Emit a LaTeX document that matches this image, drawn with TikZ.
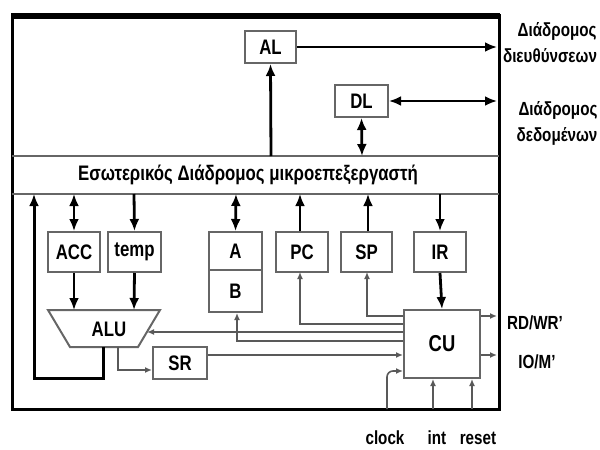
\documentclass[tikz,border=0pt]{standalone}
\usepackage{fontspec}
\setmainfont{Liberation Sans}[FakeStretch=0.8]
\usetikzlibrary{arrows.meta}
\definecolor{bx}{gray}{0.4}
\definecolor{ln}{gray}{0.35}
\tikzset{
  reg/.style={draw=bx, line width=1pt, fill=white, inner sep=0pt, font=\fontsize{10.5}{11}\selectfont\bfseries},
  thk/.style={line width=1.4pt, -{Latex[length=6pt,width=5pt]}},
  thkd/.style={line width=1.4pt, {Latex[length=6pt,width=5pt]}-{Latex[length=6pt,width=5pt]}},
  thn/.style={draw=ln, line width=0.8pt, -{Latex[length=3.5pt,width=3pt]}},
  lbl/.style={font=\fontsize{9.5}{10}\selectfont\bfseries, inner sep=0pt},
}
\begin{document}
\begin{tikzpicture}[x=0.5pt,y=-0.5pt]
\useasboundingbox (0,0) rectangle (600,450);
% frame
\draw[line width=1.5pt] (12,15) rectangle (499,409);
\draw[line width=3pt] (11,16) -- (500,16);
% bus
\draw[draw=bx, line width=0.7pt] (12,156) -- (499,156);
\draw[draw=bx, line width=0.7pt] (12,194) -- (499,194);
\node[font=\fontsize{10.5}{11}\selectfont\bfseries] (bus) at (248,175) {Εσωτερικός Διάδρομος μικροεπεξεργαστή};
\coordinate (busAL) at (271,156);
\coordinate (busDL) at (362,156);
% AL, DL
\node[reg, minimum width=25.5pt, minimum height=16pt] (AL) at (270.5,47) {AL};
\node[reg, minimum width=26.5pt, minimum height=16pt] (DL) at (361.5,101) {DL};
\coordinate (aout) at (497,47);
\coordinate (dout) at (497,101);
\draw[thk] (busAL) -- (AL.south);
\draw[thk] (AL.east) -- (aout);
\draw[thkd] (DL.east) -- (dout);
\draw[thkd] (DL.south) -- (busDL);
% right labels
\node[lbl, anchor=east] (l1) at (597,31) {Διάδρομος};
\node[lbl] (l2) at (550,56) {διευθύνσεων};
\node[lbl] (l3) at (558,110) {Διάδρομος};
\node[lbl] (l4) at (557,136) {δεδομένων};
% registers
\node[reg, minimum width=26pt, minimum height=20pt] (ACC) at (74,252) {ACC};
\node[reg, minimum width=26.5pt, minimum height=20pt] (temp) at (134.5,252) {temp};
\node[reg, minimum width=26.5pt, minimum height=19pt] (A) at (235.5,251) {A};
\node[reg, minimum width=26.5pt, minimum height=21pt] (B) at (235.5,291) {B};
\node[reg, minimum width=26pt, minimum height=20pt] (PC) at (302,252) {PC};
\node[reg, minimum width=25.5pt, minimum height=20pt] (SP) at (366.5,252) {SP};
\node[reg, minimum width=26pt, minimum height=20pt] (IR) at (440,252) {IR};
\node[reg, minimum width=27pt, minimum height=16pt] (SR) at (180,363) {SR};
\node[reg, minimum width=38pt, minimum height=34pt, font=\fontsize{11.5}{12}\selectfont\bfseries] (CU) at (442,344) {CU};
% ALU
\draw[draw=bx, line width=1pt] (48,310) -- (160,310) -- (138,347) -- (70,347) -- cycle;
\node[font=\fontsize{10.5}{11}\selectfont\bfseries] (ALU) at (109,329) {ALU};
\coordinate (alutopL) at (74,310);
\coordinate (alutopR) at (134,310);
\coordinate (aluin) at (147,332);
\coordinate (aluo1) at (103,347);
\coordinate (aluo2) at (118,347);
% bus connections
\draw[thkd] (74,194) -- (ACC.north);
\draw[thk] (134,194) -- (temp.north);
\draw[thkd] (236,194) -- (A.north);
\draw[thk] (PC.north -| 300,0) -- (300,194);
\draw[thk] (SP.north -| 368,0) -- (368,194);
\draw[thk] (440,194) -- (IR.north);
\draw[thk] (IR.south) -- (CU.north);
\draw[thk] (ACC.south) -- (alutopL);
\draw[thk] (temp.south) -- (alutopR);
% ALU outputs
\draw[line width=1.5pt, -{Latex[length=6pt,width=5pt]}] (aluo1) -- (103,378) -- (34,378) -- (34,194);
\draw[thn] (aluo2) -- (118,370) -- (SR.west |- 0,370);
\draw[thn] (SR.east |- 0,355) -- (CU.west |- 0,355);
% CU control lines
\draw[thn] (CU.west |- 0,316) -- (367,316) -- (367,272);
\draw[thn] (CU.west |- 0,324) -- (300,324) -- (300,272);
\draw[thn] (CU.west |- 0,332) -- (aluin);
\draw[thn] (CU.west |- 0,341) -- (237,341) -- (B.south -| 237,0);
% clock int reset
\draw[thn, rounded corners=3pt] (387,409) -- (387,371) -- (CU.west |- 0,371);
\draw[thn] (433,409) -- (CU.south -| 433,0);
\draw[thn] (472,409) -- (CU.south -| 472,0);
\node[lbl] (clk) at (385,438) {clock};
\node[lbl] (int) at (437,438) {int};
\node[lbl] (rst) at (478,438) {reset};
% RD/WR, IO/M
\coordinate (rw) at (497,316);
\coordinate (io) at (497,355);
\draw[thn] (CU.east |- rw) -- (rw);
\draw[thn] (CU.east |- io) -- (io);
\node[lbl] (rwl) at (535,323) {RD/WR'};
\node[lbl] (iol) at (537,362) {IO/M'};
\end{tikzpicture}
\end{document}
